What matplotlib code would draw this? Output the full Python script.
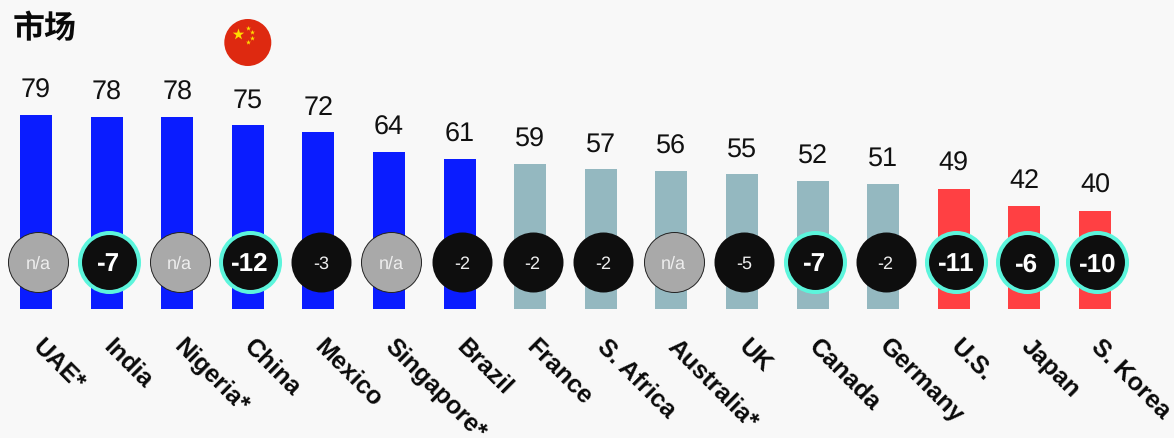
import matplotlib
matplotlib.use("Agg")
import matplotlib.pyplot as plt
from matplotlib.patches import Circle

plt.rcParams['font.family'] = ['Liberation Sans', 'Noto Sans CJK SC', 'DejaVu Sans']
plt.rcParams['text.hinting'] = 'no_hinting'
plt.rcParams['text.hinting_factor'] = 1

title = "市场"
countries = ["UAE*", "India", "Nigeria*", "China", "Mexico", "Singapore*", "Brazil", "France",
             "S. Africa", "Australia*", "UK", "Canada", "Germany", "U.S.", "Japan", "S. Korea"]
scores = [79, 78, 78, 75, 72, 64, 61, 59, 57, 56, 55, 52, 51, 49, 42, 40]
changes = [None, -7, None, -12, -3, None, -2, -2, -2, None, -5, -7, -2, -11, -6, -10]
groups = ["high"] * 7 + ["mid"] * 6 + ["low"] * 3

BG = "#f8f8f8"
group_colors = {"high": "#0a1cff", "mid": "#94b8c0", "low": "#ff4043"}
W, H, BASE = 1174, 438, 309
PX = 2.456      # pixels per score unit
STEP = 70.6     # pixels per category

fig = plt.figure(figsize=(W / 100, H / 100), dpi=100, facecolor=BG)
ax = fig.add_axes([0, (H - BASE) / H, 1, BASE / H])
ax.set_facecolor("none")
ax.set_xlim(-36 / STEP, (W - 36) / STEP)
ax.set_ylim(0, BASE / PX)
for s in ax.spines.values():
    s.set_visible(False)
ax.yaxis.set_visible(False)

xs = list(range(len(countries)))
ax.bar(xs, scores, width=32 / STEP, color=[group_colors[g] for g in groups], linewidth=0, zorder=1)

for x, v in zip(xs, scores):
    ax.annotate(str(v), (x, v), xytext=(0, 8.6), textcoords="offset points",
                ha="center", va="bottom", fontsize=19.4, color="#111111")

# change badges
ROW = 47 / PX
DX = 2.4 / STEP
for x, c in zip(xs, changes):
    cx = x + DX
    if c is None:
        ax.scatter([cx], [ROW], s=(60 * .72) ** 2, color="#a9a9a9", edgecolors="#222222",
                   linewidths=0.7, zorder=3)
        ax.text(cx, ROW, "n/a", ha="center", va="center_baseline", fontsize=12.7, color="#eeeeee", zorder=4)
    elif c <= -6:
        ax.scatter([cx], [ROW], s=(59 * .72) ** 2, color="#0e0e0e", edgecolors="#5cf5dc",
                   linewidths=2.9, zorder=3)
        ax.text(cx, ROW, str(c), ha="center", va="center_baseline", fontsize=18.7,
                fontweight="bold", color="white", zorder=4)
    else:
        ax.scatter([cx], [ROW], s=(60 * .72) ** 2, color="#0e0e0e", linewidths=0, zorder=3)
        ax.text(cx, ROW, str(c), ha="center", va="center_baseline", fontsize=12.7, color="#eeeeee", zorder=4)

ax.set_xticks(xs)
ax.set_xticklabels(countries, rotation=-45, ha="left", va="center", rotation_mode="anchor",
                   fontsize=17.9, fontweight="bold", color="#0a0a0a")
ax.tick_params(axis="x", length=0, pad=24.5)

fig.text(13 / W, 1 - 28.5 / H, title, ha="left", va="center", fontsize=23, fontweight="bold",
         family=["Noto Sans CJK SC", "DejaVu Sans"], color="#0a0a0a")

# flag icon above China
fa = fig.add_axes([224 / W, 1 - 66 / H, 48 / W, 48 / H])
fa.set_xlim(224, 272)
fa.set_ylim(66, 18)
fa.axis("off")
fa.add_patch(Circle((247.8, 42.5), 23.5, color="#de2910", linewidth=0))
fa.scatter([237.7], [33.5], marker="*", s=75, color="#ffde00", linewidths=0)
fa.scatter([248, 252, 251.5, 247.5], [28, 32, 38, 42], marker="*", s=14, color="#ffde00", linewidths=0)

fig.savefig("out.png", dpi=100, facecolor=BG)
